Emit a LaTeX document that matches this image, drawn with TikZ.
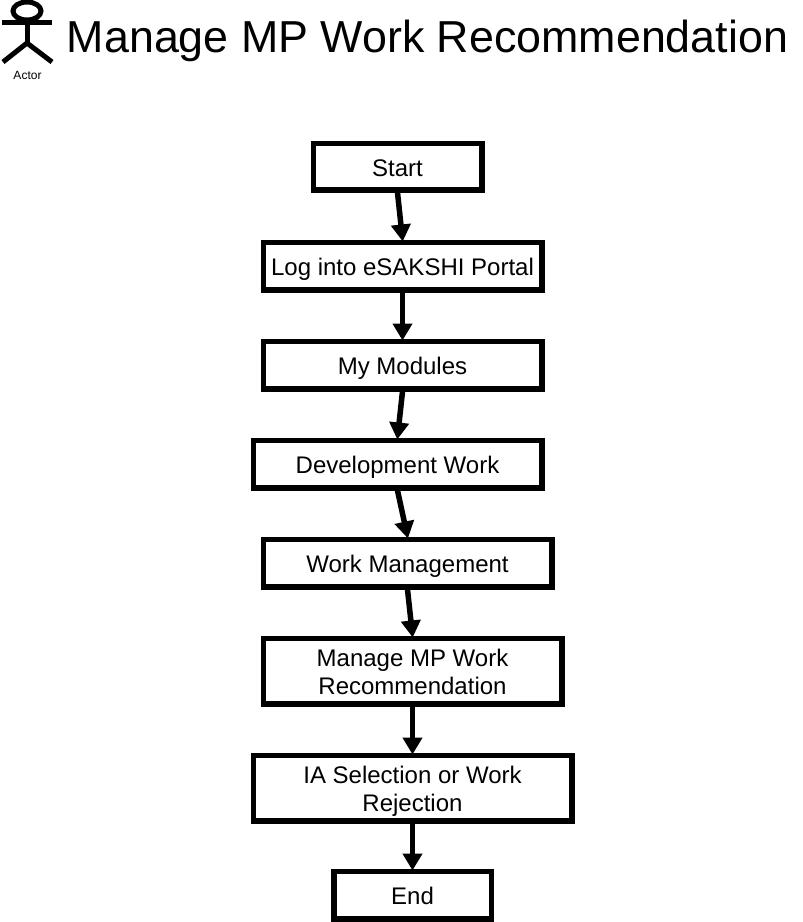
\documentclass[tikz,border=0pt]{standalone}
\usepackage{fontspec}
\setmainfont{Liberation Sans}
\usetikzlibrary{arrows.meta}
\newcommand\lowr[1]{\rule{0pt}{#1pt}}
\tikzset{
  flowbox/.style={draw=black,line width=5.5pt,fill=white,align=center,inner sep=0pt,
    font=\fontsize{24}{28}\selectfont},
  flowarrow/.style={line width=5.5pt,draw=black,-{Triangle[length=17pt,width=19pt]},shorten >=-2pt},
  actorline/.style={line width=5pt,draw=black}
}
\begin{document}
\begin{tikzpicture}[x=1pt,y=-1pt]
\useasboundingbox (0,0) rectangle (803,922);
% actor
\draw[actorline] (27,11) ellipse [x radius=14, y radius=9];
\coordinate (neck) at (27,20);
\coordinate (hip) at (27,43);
\coordinate (armL) at (2,22);
\coordinate (armR) at (52,22);
\coordinate (legL) at (3,62);
\coordinate (legR) at (52,62);
\draw[actorline] (neck) -- (hip);
\draw[actorline] (armL) -- (armR);
\draw[actorline] (legL) -- (hip) -- (legR);
\node[font=\fontsize{12}{14}\selectfont,inner sep=0pt] (actor) at (27.5,75.5) {Actor};
\node[font=\fontsize{44.8}{52}\selectfont,inner sep=0pt] (title) at (427.5,41) {Manage MP Work Recommendation};
% boxes
\node[flowbox,minimum width=168.5pt,minimum height=46.5pt] (start) at (397.5,166.5) {\lowr{21.2}Start};
\node[flowbox,minimum width=278.5pt,minimum height=47.5pt] (log) at (402.5,266) {\lowr{23.2}Log into eSAKSHI Portal};
\node[flowbox,minimum width=278.5pt,minimum height=47.5pt] (mods) at (402.5,365) {\lowr{23.2}My Modules};
\node[flowbox,minimum width=288.5pt,minimum height=47.5pt] (dev) at (397.5,464) {\lowr{23.2}Development Work};
\node[flowbox,minimum width=288.5pt,minimum height=47.5pt] (wm) at (407.5,563) {\lowr{23.2}Work Management};
\node[flowbox,minimum width=298.5pt,minimum height=65.5pt] (mp) at (412.5,671) {\lowr{19.2}Manage MP Work\\Recommendation};
\node[flowbox,minimum width=318.5pt,minimum height=65.5pt] (ia) at (412.5,788) {\lowr{23.2}IA Selection or Work\\Rejection};
\node[flowbox,minimum width=157.5pt,minimum height=47.5pt] (end) at (412.5,895) {\lowr{19.2}End};
% connectors
\draw[flowarrow] (start.south) -- (log.north);
\draw[flowarrow] (log.south) -- (mods.north);
\draw[flowarrow] (mods.south) -- (dev.north);
\draw[flowarrow] (dev.south) -- (wm.north);
\draw[flowarrow] (wm.south) -- (mp.north);
\draw[flowarrow] (mp.south) -- (ia.north);
\draw[flowarrow] (ia.south) -- (end.north);
\end{tikzpicture}
\end{document}
